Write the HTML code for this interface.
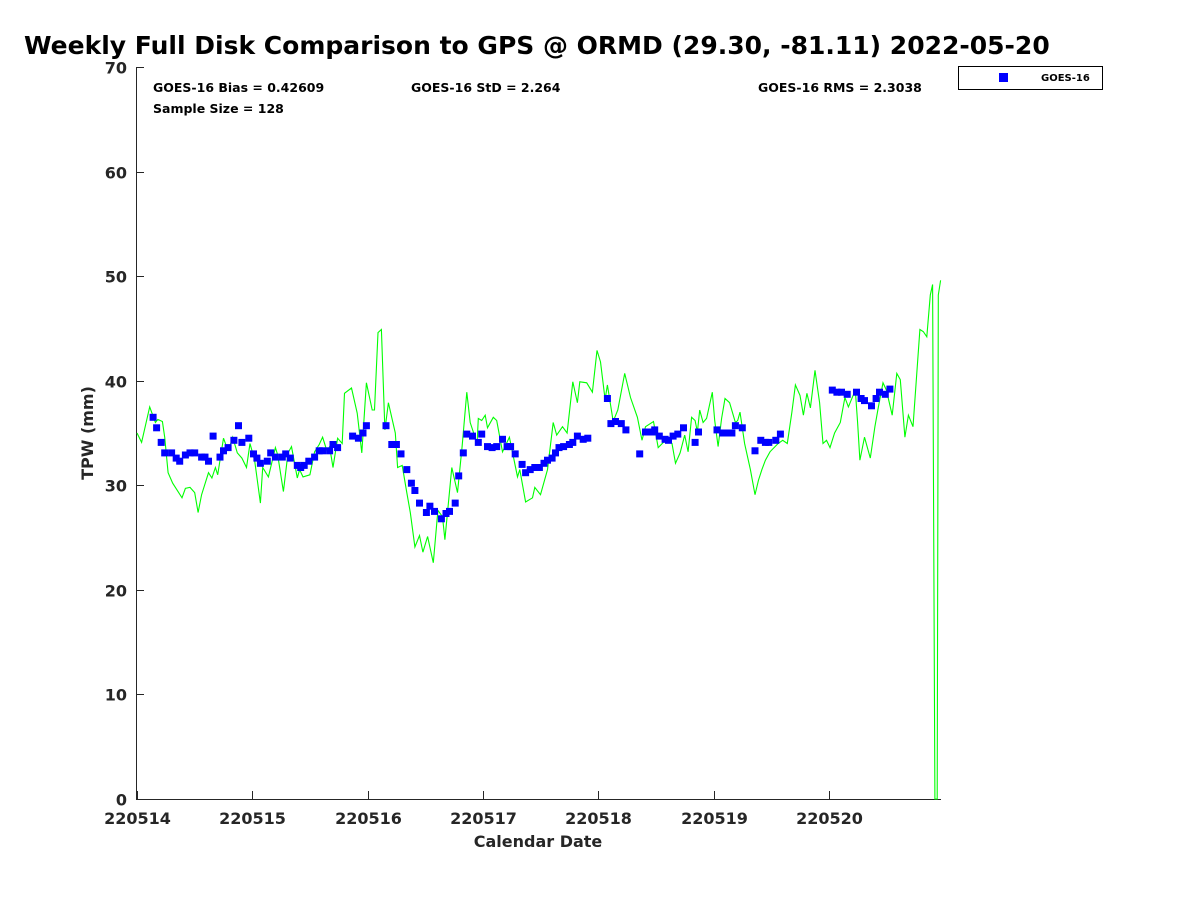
<!DOCTYPE html>
<html><head><meta charset="utf-8"><style>
body{margin:0;background:#fff;}
svg{display:block;font-family:"DejaVu Sans","Liberation Sans",sans-serif;}
</style></head><body>
<svg id="chart" width="1200" height="900" viewBox="0 0 1200 900" xmlns="http://www.w3.org/2000/svg">
<rect width="1200" height="900" fill="#fff"/>
<text x="24" y="54" font-size="25" font-weight="bold" fill="#000">Weekly Full Disk Comparison to GPS @ ORMD (29.30, -81.11) 2022-05-20</text>
<g id="grid-layer"></g>
<g id="series-layer"></g>
<text x="153" y="92" font-size="12.5" font-weight="bold">GOES-16 Bias = 0.42609</text>
<text x="153" y="113" font-size="12.5" font-weight="bold">Sample Size = 128</text>
<text x="411" y="92" font-size="12.5" font-weight="bold">GOES-16 StD = 2.264</text>
<text x="758" y="92" font-size="12.5" font-weight="bold">GOES-16 RMS = 2.3038</text>
<g>
<rect x="958.5" y="66.5" width="144" height="23" fill="#fff" stroke="#000" stroke-width="1"/>
<rect x="999" y="73" width="9" height="9" fill="#0000ff"/>
<text x="1041" y="81" font-size="10" font-weight="bold">GOES-16</text>
</g>
<text x="538" y="847" font-size="16" font-weight="bold" text-anchor="middle" fill="#262626">Calendar Date</text>
<text transform="translate(93,433) rotate(-90)" font-size="16" font-weight="bold" text-anchor="middle" fill="#262626">TPW (mm)</text>
</svg>
<script>
const xTickLabels = ["220514","220515","220516","220517","220518","220519","220520"];
const yTickValues = [0,10,20,30,40,50,60,70];
const gpsDays = [0.00,0.04,0.11,0.16,0.18,0.22,0.24,0.27,0.31,0.39,0.42,0.46,0.50,0.53,0.56,0.62,0.65,0.68,0.70,0.75,0.78,0.81,0.83,0.87,0.91,0.95,0.98,1.02,1.07,1.09,1.14,1.20,1.22,1.27,1.31,1.34,1.39,1.41,1.44,1.50,1.54,1.58,1.61,1.65,1.67,1.70,1.74,1.78,1.80,1.86,1.91,1.95,1.99,2.04,2.06,2.09,2.12,2.15,2.18,2.24,2.26,2.30,2.34,2.37,2.41,2.45,2.48,2.52,2.57,2.61,2.65,2.67,2.73,2.78,2.82,2.86,2.89,2.95,2.96,2.99,3.02,3.04,3.09,3.12,3.17,3.23,3.30,3.32,3.37,3.43,3.45,3.50,3.56,3.61,3.64,3.69,3.73,3.78,3.82,3.84,3.90,3.95,3.99,4.02,4.06,4.08,4.13,4.17,4.23,4.28,4.34,4.38,4.41,4.48,4.52,4.60,4.64,4.67,4.71,4.75,4.78,4.81,4.84,4.86,4.88,4.91,4.94,4.99,5.01,5.04,5.07,5.10,5.14,5.19,5.21,5.23,5.27,5.32,5.36,5.39,5.42,5.45,5.49,5.56,5.60,5.64,5.68,5.71,5.75,5.78,5.81,5.84,5.88,5.92,5.95,5.98,6.01,6.05,6.10,6.14,6.17,6.23,6.25,6.27,6.31,6.36,6.40,6.43,6.47,6.50,6.55,6.59,6.62,6.66,6.69,6.73,6.79,6.82,6.85,6.88,6.90,6.92,6.94,6.95,6.97];
const gpsTpw = [35.0,34.1,37.5,36.0,36.3,36.1,34.6,31.2,30.2,28.8,29.7,29.8,29.3,27.4,29.1,31.2,30.7,31.7,31.0,34.5,33.6,33.9,34.6,33.1,32.6,31.7,34.0,32.4,28.3,31.7,30.8,33.6,32.9,29.4,33.1,33.7,30.7,31.5,30.8,31.0,33.2,33.9,34.6,33.2,33.7,31.7,34.5,34.0,38.8,39.3,36.9,33.1,39.8,37.2,37.2,44.6,44.9,35.3,37.9,35.0,31.7,31.9,29.3,27.4,24.1,25.2,23.6,25.1,22.6,27.6,27.0,24.8,31.7,29.3,33.7,38.9,36.0,34.0,36.4,36.2,36.7,35.5,36.5,36.2,33.2,34.6,30.8,31.5,28.4,28.8,29.8,29.1,31.5,36.0,34.8,35.6,35.0,39.9,37.9,39.9,39.8,38.9,42.9,41.8,38.2,39.6,36.1,37.2,40.7,38.4,36.5,34.3,35.6,36.1,33.6,34.5,34.0,32.1,33.1,34.8,33.2,36.5,36.2,35.1,37.2,36.0,36.4,38.9,36.2,33.7,36.4,38.3,37.9,36.0,36.2,37.0,34.0,31.5,29.1,30.5,31.5,32.4,33.2,34.0,34.3,34.0,37.0,39.6,38.6,36.7,38.8,37.4,41.0,37.9,34.0,34.3,33.6,35.0,36.0,38.4,37.5,39.1,36.0,32.4,34.6,32.6,35.6,37.5,39.8,39.1,36.7,40.7,40.1,34.6,36.7,35.6,44.9,44.7,44.2,48.2,49.2,0,0,48.2,49.6];
const goesDays = [0.14,0.17,0.21,0.24,0.30,0.34,0.37,0.42,0.46,0.50,0.56,0.59,0.62,0.66,0.72,0.75,0.79,0.84,0.88,0.91,0.97,1.01,1.04,1.07,1.13,1.16,1.20,1.26,1.29,1.33,1.39,1.42,1.45,1.49,1.54,1.58,1.61,1.67,1.70,1.74,1.87,1.92,1.96,1.99,2.16,2.21,2.25,2.29,2.34,2.38,2.41,2.45,2.51,2.54,2.58,2.64,2.68,2.71,2.76,2.79,2.83,2.86,2.91,2.96,2.99,3.04,3.08,3.12,3.17,3.21,3.24,3.28,3.34,3.37,3.41,3.45,3.49,3.53,3.56,3.60,3.63,3.66,3.70,3.75,3.78,3.82,3.87,3.91,4.08,4.11,4.15,4.20,4.24,4.36,4.41,4.47,4.49,4.53,4.58,4.61,4.65,4.69,4.74,4.84,4.87,5.03,5.08,5.12,5.16,5.19,5.25,5.36,5.41,5.45,5.48,5.54,5.58,6.03,6.07,6.11,6.16,6.24,6.28,6.31,6.37,6.41,6.44,6.49,6.53];
const goesTpw = [36.5,35.5,34.1,33.1,33.1,32.6,32.3,32.9,33.1,33.1,32.7,32.7,32.3,34.7,32.7,33.3,33.6,34.3,35.7,34.1,34.5,33.0,32.6,32.1,32.3,33.1,32.7,32.7,33.0,32.6,31.9,31.7,31.9,32.3,32.7,33.3,33.3,33.3,33.9,33.6,34.7,34.5,35.0,35.7,35.7,33.9,33.9,33.0,31.5,30.2,29.5,28.3,27.4,28.0,27.5,26.8,27.3,27.5,28.3,30.9,33.1,34.9,34.7,34.1,34.9,33.7,33.6,33.7,34.4,33.7,33.7,33.0,32.0,31.2,31.5,31.7,31.7,32.1,32.4,32.6,33.1,33.6,33.7,33.9,34.1,34.7,34.4,34.5,38.3,35.9,36.1,35.9,35.3,33.0,35.1,35.1,35.3,34.7,34.4,34.3,34.7,34.9,35.5,34.1,35.1,35.3,35.0,35.0,35.0,35.7,35.5,33.3,34.3,34.1,34.1,34.3,34.9,39.1,38.9,38.9,38.7,38.9,38.3,38.1,37.6,38.3,38.9,38.7,39.2];

const NS = "http://www.w3.org/2000/svg";
const X0 = 137, PXDAY = 115.3, Y0 = 799, PXUNIT = 10.457;
function xScale(d){ return X0 + d * PXDAY; }
function yScale(v){ return Y0 - v * PXUNIT; }
function mk(tag, attrs, parent){ const e = document.createElementNS(NS, tag); for (const k in attrs) e.setAttribute(k, attrs[k]); parent.appendChild(e); return e; }

const axes = document.getElementById("grid-layer");
const series = document.getElementById("series-layer");

const yAxis = mk("line", {x1:136.5, y1:67, x2:136.5, y2:800, stroke:"#262626", "stroke-width":1}, axes);


const xAxis = mk("line", {x1:136, y1:799.5, x2:941, y2:799.5, stroke:"#262626", "stroke-width":1}, axes);



yTickValues.forEach(v => {
  const y = Math.round(yScale(v)) + 0.5;
  const t = mk("line", {x1:136, y1:y, x2:144, y2:y, stroke:"#262626"}, axes);
  
  
  const l = mk("text", {x:127, y:y + 6, "font-size":16, "font-weight":"bold", "text-anchor":"end", fill:"#262626"}, axes);
  
  
  l.textContent = v;
});
xTickLabels.forEach((s, i) => {
  const x = Math.round(xScale(i)) + 0.5;
  const t = mk("line", {x1:x, y1:799, x2:x, y2:791, stroke:"#262626"}, axes);
  
  
  const l = mk("text", {x:x, y:824, "font-size":16, "font-weight":"bold", "text-anchor":"middle", fill:"#262626"}, axes);
  
  
  l.textContent = s;
});

const pts = gpsDays.map((d, i) => xScale(d).toFixed(1) + "," + yScale(gpsTpw[i]).toFixed(1)).join(" ");
const gl = mk("polyline", {points:pts, fill:"none", stroke:"#00ff00", "stroke-width":1.1}, series);



goesDays.forEach((d, i) => {
  const r = mk("rect", {x:(xScale(d) - 3.5).toFixed(1), y:(yScale(goesTpw[i]) - 3.5).toFixed(1), width:7, height:7, fill:"#0000ff"}, series);
  
  
});
</script>
</body></html>
